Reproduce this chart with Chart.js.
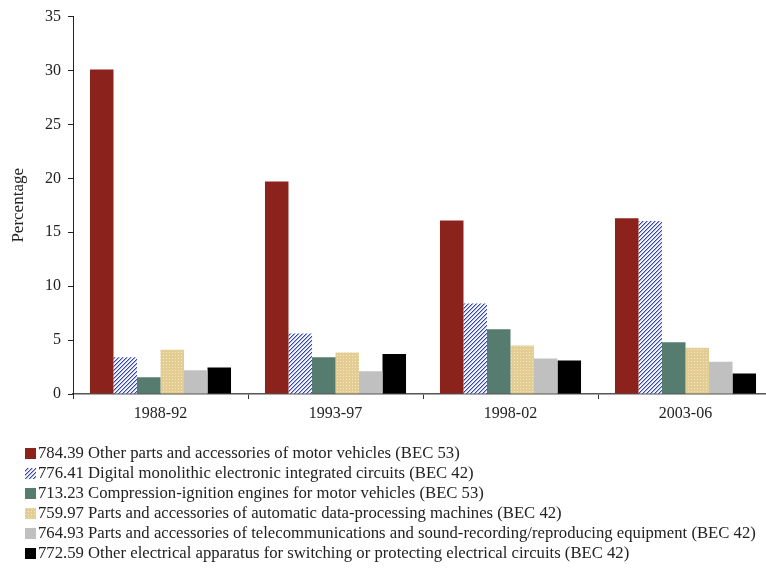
<!DOCTYPE html>
<html>
<head>
<meta charset="utf-8">
<script src="https://cdn.jsdelivr.net/npm/chart.js"></script>
<style>
  html, body { margin: 0; padding: 0; background: #fff; }
</style>
</head>
<body>
<canvas id="chart" width="766" height="570"></canvas>
<script>
// periods on the x axis
const periods = ['1988-92', '1993-97', '1998-02', '2003-06'];

// share of each product, in percent
const vehicleParts = [30.1, 19.7, 16.1, 16.3];
const integratedCircuits = [3.4, 5.6, 8.4, 16.05];
const dieselEngines = [1.55, 3.4, 6.0, 4.8];
const computerParts = [4.1, 3.85, 4.5, 4.3];
const telecomParts = [2.2, 2.1, 3.3, 3.0];
const switchingApparatus = [2.45, 3.7, 3.1, 1.9];

const productNames = [
  '784.39 Other parts and accessories of motor vehicles (BEC 53)',
  '776.41 Digital monolithic electronic integrated circuits (BEC 42)',
  '713.23 Compression-ignition engines for motor vehicles (BEC 53)',
  '759.97 Parts and accessories of automatic data-processing machines (BEC 42)',
  '764.93 Parts and accessories of telecommunications and sound-recording/reproducing equipment (BEC 42)',
  '772.59 Other electrical apparatus for switching or protecting electrical circuits (BEC 42)',
];

const yMax = 35;
const yStep = 5;

const serif = '"Liberation Serif", "DejaVu Serif", serif';
const ctx = document.getElementById('chart').getContext('2d');

// small tiles for the hatched and dotted fills
function hatchPattern() {
  const c = document.createElement('canvas');
  c.width = 4; c.height = 4;
  const g = c.getContext('2d');
  g.fillStyle = '#f4f5fb';
  g.fillRect(0, 0, 4, 4);
  for (let i = 0; i < 4; i++) {
    g.fillStyle = '#3646a8';
    g.fillRect(i, 3 - i, 1, 1);
    g.fillStyle = '#a4aee0';
    g.fillRect((i + 1) % 4, 3 - i, 1, 1);
  }
  return ctx.createPattern(c, 'repeat');
}

function dotPattern() {
  const c = document.createElement('canvas');
  c.width = 3; c.height = 3;
  const g = c.getContext('2d');
  g.fillStyle = '#e4cd92';
  g.fillRect(0, 0, 3, 3);
  g.fillStyle = '#f3e6c2';
  g.fillRect(1, 1, 1, 1);
  return ctx.createPattern(c, 'repeat');
}

const fills = ['#8b231c', hatchPattern(), '#567b6f', dotPattern(), '#c0c0c0', '#000000'];
const series = [vehicleParts, integratedCircuits, dieselEngines, computerParts, telecomParts, switchingApparatus];

// the x axis runs a little past the right edge of the picture
const widenX = {
  id: 'widenX',
  afterLayout(chart) {
    const x = chart.scales.x;
    x.right = x.left + 700;
    x.width = 700;
    x.configure();
    chart.chartArea.right = x.right;
    chart.chartArea.width = 700;
  }
};

// legend drawn as one item per line under the axis
const seriesKey = {
  id: 'seriesKey',
  afterDraw(chart) {
    const c = chart.ctx;
    const area = chart.chartArea;
    c.save();
    c.font = '16.7px ' + serif;
    c.textBaseline = 'middle';
    chart.data.datasets.forEach((ds, i) => {
      const top = area.bottom + 54 + i * 20;
      c.fillStyle = ds.backgroundColor;
      c.fillRect(25, top, 11, 11);
      c.fillStyle = '#222';
      c.fillText(ds.label, 38, top + 6);
    });
    c.restore();
  }
};

new Chart(ctx, {
  type: 'bar',
  data: {
    labels: periods,
    datasets: series.map((values, i) => ({
      label: productNames[i],
      data: values,
      backgroundColor: fills[i],
      borderWidth: 0,
      categoryPercentage: 0.806,
      barPercentage: 1,
    })),
  },
  options: {
    responsive: false,
    animation: false,
    devicePixelRatio: 1,
    layout: { padding: { top: 13, right: 0, bottom: 146, left: 0 } },
    plugins: {
      legend: { display: false },
      tooltip: { enabled: false },
    },
    scales: {
      x: {
        grid: { offset: true, drawOnChartArea: false, tickLength: 5, color: '#333' },
        border: { color: '#555', width: 1.5 },
        ticks: { color: '#222', padding: 5, font: { family: serif, size: 16 } },
        afterFit(scale) { scale.height = 30; },
      },
      y: {
        min: 0,
        max: yMax,
        grid: { drawOnChartArea: false, tickLength: 5, color: '#222' },
        border: { color: '#222', width: 1 },
        ticks: { stepSize: yStep, color: '#222', padding: 7, font: { family: serif, size: 16 } },
        title: {
          display: true,
          text: 'Percentage',
          color: '#222',
          padding: { top: 8, bottom: 0 },
          font: { family: serif, size: 17 },
        },
        afterFit(scale) { scale.width = 73; },
      },
    },
  },
  plugins: [widenX, seriesKey],
});
</script>
</body>
</html>
